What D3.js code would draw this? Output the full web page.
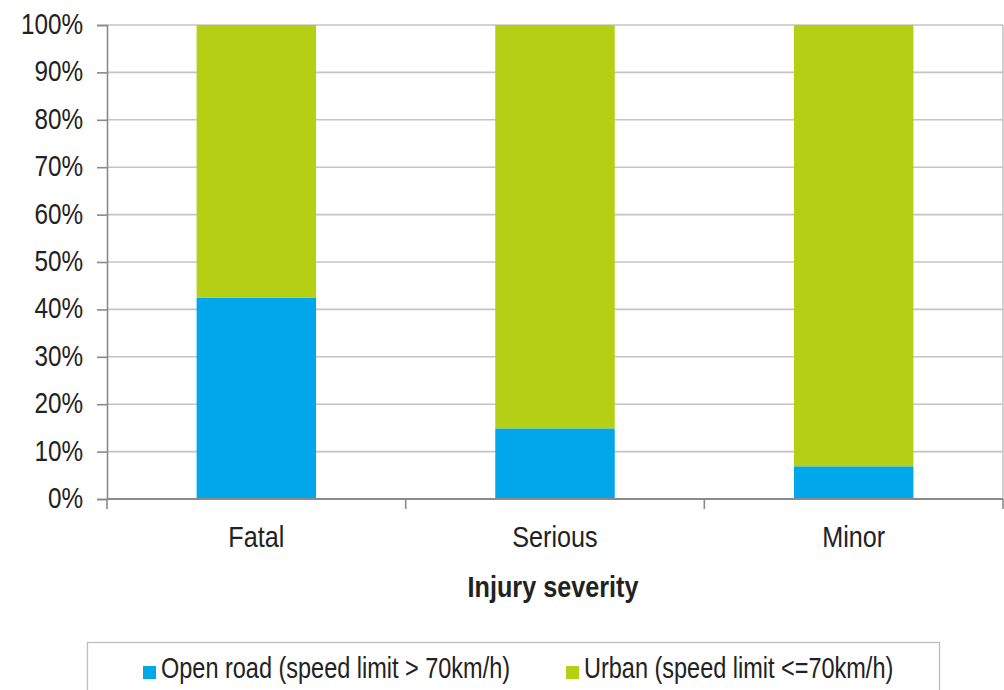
<!DOCTYPE html>
<html>
<head>
<meta charset="utf-8">
<script src="https://cdn.jsdelivr.net/npm/d3@7/dist/d3.min.js"></script>
<style>
  html, body { margin: 0; padding: 0; background: #fff; }
  svg { display: block; }
  text { font-family: "Liberation Sans", Arial, sans-serif; fill: #222; }
</style>
</head>
<body>
<svg id="chart" width="1004" height="690"></svg>
<script>
// Share of injuries by road type, per injury severity
const categories = ["Fatal", "Serious", "Minor"];
const openRoad = [42.5, 14.9, 6.9];     // % open road (speed limit > 70km/h)
const urban = openRoad.map(v => 100 - v); // remainder: urban (speed limit <=70km/h)
const seriesNames = ["Open road (speed limit > 70km/h)", "Urban (speed limit <=70km/h)"];
const seriesColors = ["#00a7ea", "#b4cf14"];
const yTicks = [0, 10, 20, 30, 40, 50, 60, 70, 80, 90, 100];
const axisTitle = "Injury severity";

const svg = d3.select("#chart");
const plot = { left: 107, right: 1003, top: 25, bottom: 499 };

// narrow the type horizontally around each text's anchor point
function condense(sel, sx) {
  sel.each(function () {
    const t = d3.select(this);
    const tx = +t.attr("x") || 0, ty = +t.attr("y") || 0;
    t.attr("x", 0).attr("y", 0)
      .attr("transform", `translate(${tx},${ty}) scale(${sx},1)`);
  });
}

const x = d3.scaleBand()
  .domain(categories)
  .range([plot.left, plot.right])
  .paddingInner(0.6)
  .paddingOuter(0.3);

const y = d3.scaleLinear().domain([0, 100]).range([plot.bottom, plot.top]);

// horizontal gridlines
svg.append("g")
  .selectAll("line")
  .data(yTicks.filter(d => d > 0))
  .join("line")
  .attr("x1", plot.left).attr("x2", plot.right)
  .attr("y1", d => y(d)).attr("y2", d => y(d))
  .attr("stroke", "#c4c4c4").attr("stroke-width", 1.6);

// right border of plot area
svg.append("line")
  .attr("x1", plot.right).attr("x2", plot.right)
  .attr("y1", plot.top).attr("y2", plot.bottom)
  .attr("stroke", "#c4c4c4").attr("stroke-width", 1.6);

// stacked bars
const rows = categories.map((c, i) => ({ cat: c, open: openRoad[i], urban: urban[i] }));
const stack = d3.stack().keys(["open", "urban"])(rows);

svg.append("g")
  .selectAll("g")
  .data(stack)
  .join("g")
  .attr("fill", (d, i) => seriesColors[i])
  .selectAll("rect")
  .data(d => d)
  .join("rect")
  .attr("x", d => x(d.data.cat))
  .attr("width", x.bandwidth())
  .attr("y", d => y(d[1]))
  .attr("height", d => y(d[0]) - y(d[1]));

// y axis
const yAxis = svg.append("g")
  .attr("transform", `translate(${plot.left},0)`)
  .call(d3.axisLeft(y).tickValues(yTicks).tickFormat(d => d + "%").tickSize(10).tickPadding(14));
yAxis.select(".domain").attr("stroke", "#8a8a8a").attr("stroke-width", 1.6);
yAxis.selectAll(".tick line").attr("stroke", "#8a8a8a").attr("stroke-width", 1.6);
yAxis.selectAll(".tick text")
  .attr("font-size", 30)
  .attr("fill", "#222")
  .attr("dy", "0.28em")
  .call(condense, 0.81);

// x axis baseline and category boundary ticks
svg.append("line")
  .attr("x1", plot.left).attr("x2", plot.right)
  .attr("y1", plot.bottom).attr("y2", plot.bottom)
  .attr("stroke", "#8a8a8a").attr("stroke-width", 1.8);

const step = x.step();
const boundaries = d3.range(categories.length + 1).map(i => plot.left + i * step);
svg.append("g")
  .selectAll("line")
  .data(boundaries)
  .join("line")
  .attr("x1", d => d).attr("x2", d => d)
  .attr("y1", plot.bottom).attr("y2", plot.bottom + 10)
  .attr("stroke", "#8a8a8a").attr("stroke-width", 1.6);

// category labels
svg.append("g")
  .selectAll("text")
  .data(categories)
  .join("text")
  .attr("x", d => x(d) + x.bandwidth() / 2)
  .attr("y", 547)
  .attr("text-anchor", "middle")
  .attr("font-size", 30)
  .text(d => d)
  .call(condense, 0.84);

// axis title
svg.append("text")
  .attr("x", 553)
  .attr("y", 597)
  .attr("text-anchor", "middle")
  .attr("font-size", 30)
  .attr("font-weight", "bold")
  .text(axisTitle)
  .call(condense, 0.84);

// legend
const legend = svg.append("g");
legend.append("rect")
  .attr("x", 87.5).attr("y", 642.5)
  .attr("width", 852).attr("height", 60)
  .attr("fill", "#fff").attr("stroke", "#bdbdbd").attr("stroke-width", 1.3);

const legendX = [143, 566];
const items = legend.selectAll("g.item")
  .data(seriesNames)
  .join("g")
  .attr("class", "item")
  .attr("transform", (d, i) => `translate(${legendX[i]},0)`);
items.append("rect")
  .attr("x", 0).attr("y", 666)
  .attr("width", 13).attr("height", 13)
  .attr("fill", (d, i) => seriesColors[i]);
items.append("text")
  .attr("x", 18).attr("y", 678)
  .attr("font-size", 29)
  .text(d => d)
  .call(condense, 0.81);
</script>
</body>
</html>
